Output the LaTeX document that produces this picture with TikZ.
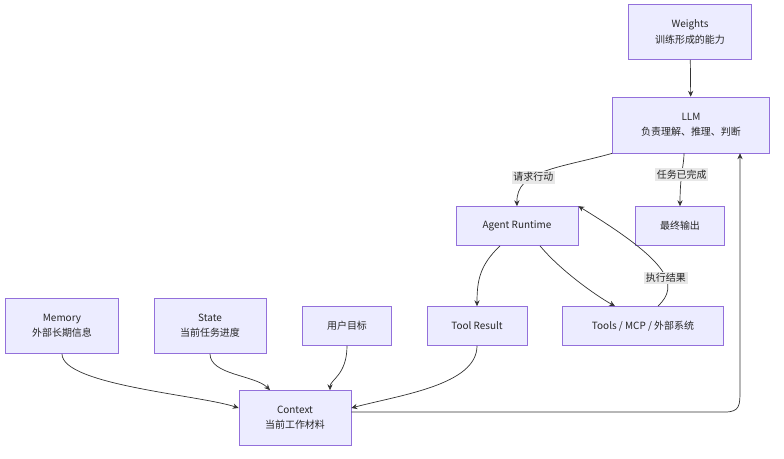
\documentclass[tikz,border=0pt]{standalone}
\usepackage{fontspec}
\setmainfont{Noto Sans CJK SC}
\usetikzlibrary{arrows.meta,calc}
\definecolor{boxfill}{HTML}{ECECFF}
\definecolor{boxline}{HTML}{9370DB}
\definecolor{lblfill}{HTML}{E8E8E8}
\definecolor{edge}{HTML}{333333}
\tikzset{
  box/.style={draw=boxline,fill=boxfill,line width=0.6pt,align=center,
    font=\fontsize{8.5}{13}\selectfont,text=black!85,inner sep=0pt},
  lbl/.style={fill=lblfill,font=\fontsize{8.5}{10}\selectfont,text=black!85,inner sep=1.5pt},
  flow/.style={draw=edge,line width=0.6pt,-{Stealth[length=5pt,width=4.5pt]}}
}
\begin{document}
\begin{tikzpicture}[x=0.03cm,y=-0.03cm]
\useasboundingbox (0,0) rectangle (784,459);
% nodes
\node[box,minimum width=123*0.03cm,minimum height=55*0.03cm] (weights) at (690,32) {Weights\\训练形成的能力};
\node[box,minimum width=157*0.03cm,minimum height=56*0.03cm] (llm) at (691,125) {LLM\\负责理解、推理、判断};
\node[box,minimum width=122*0.03cm,minimum height=39*0.03cm] (runtime) at (517,226) {Agent Runtime};
\node[box,minimum width=89*0.03cm,minimum height=39*0.03cm] (output) at (680,226) {最终输出};
\node[box,minimum width=113*0.03cm,minimum height=55*0.03cm] (memory) at (62,326) {Memory\\外部长期信息};
\node[box,minimum width=112*0.03cm,minimum height=55*0.03cm] (state) at (210,326) {State\\当前任务进度};
\node[box,minimum width=89*0.03cm,minimum height=39*0.03cm] (goal) at (347,326) {用户目标};
\node[box,minimum width=100*0.03cm,minimum height=39*0.03cm] (result) at (477,326) {Tool Result};
\node[box,minimum width=161*0.03cm,minimum height=39*0.03cm] (tools) at (643,326) {Tools / MCP / 外部系统};
\node[box,minimum width=112*0.03cm,minimum height=55*0.03cm] (context) at (295,418) {Context\\当前工作材料};
% connectors
\draw[flow] (weights) -- (llm);
\draw[flow] (llm.south west) .. controls (560,168) and (516,170) .. node[lbl,pos=0.62] {请求行动} (runtime.north);
\draw[flow] ($(llm.south)+(-7,0)$) .. controls (684,165) and (680,175) .. node[lbl,pos=0.55] {任务已完成} (output.north);
\draw[flow] ($(runtime.south)+(-17,0)$) .. controls (480,265) and (477,280) .. (result.north);
\draw[flow] ($(runtime.south)+(23,0)$) .. controls (560,270) and (595,295) .. ($(tools.north)+(-28,0)$);
\draw[flow] ($(tools.north)+(15,0)$) .. controls (680,285) and (670,262) .. node[lbl,pos=0.4] {执行结果} (runtime.north east);
\draw[flow] (memory.south) .. controls (62,385) and (200,395) .. ($(context.west)+(0,-10)$);
\draw[flow] (state.south) .. controls (210,375) and (255,375) .. ($(context.north)+(-25,0)$);
\draw[flow] (goal.south) .. controls (347,375) and (330,380) .. ($(context.north)+(35,0)$);
\draw[flow] (result.south) .. controls (477,385) and (400,395) .. ($(context.east)+(0,-10)$);
\draw[flow] ($(context.east)+(0,-6)$) -- (725,412) .. controls (740,412) and (740,405) .. (740,390) -- ($(llm.south)+(49,0)$);
\end{tikzpicture}
\end{document}
